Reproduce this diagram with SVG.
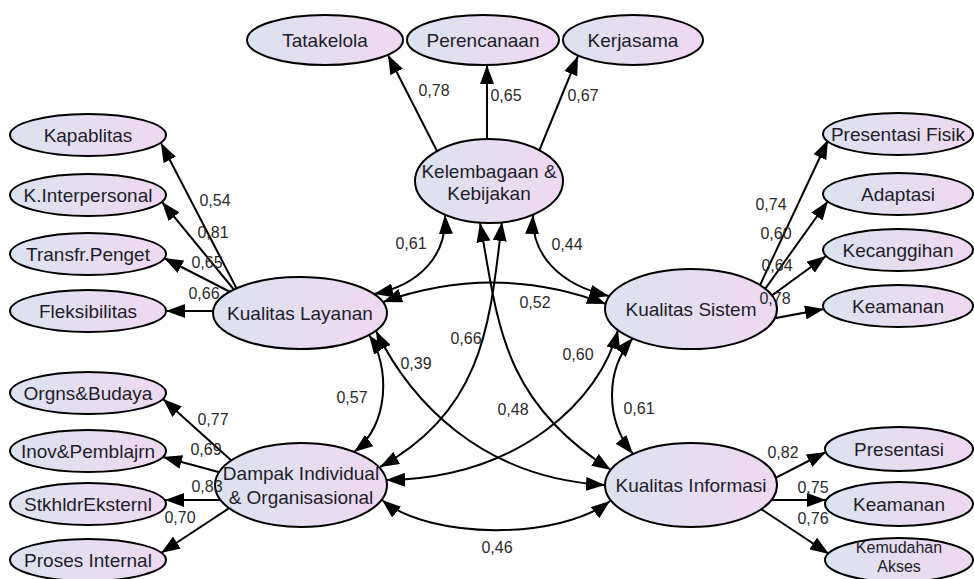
<svg xmlns="http://www.w3.org/2000/svg" width="974" height="579" viewBox="0 0 974 579">
<defs>
<linearGradient id="g" x1="0" y1="0" x2="1" y2="0">
<stop offset="0" stop-color="#dce2ef"/>
<stop offset="1" stop-color="#efd8f1"/>
</linearGradient>
<marker id="ah" viewBox="0 0 19 14" refX="19" refY="7" markerWidth="19" markerHeight="14" markerUnits="userSpaceOnUse" orient="auto-start-reverse"><path d="M0,0 L19,7 L0,14 z" fill="#000"/></marker>
</defs>
<style>
.n ellipse{fill:url(#g);stroke:#000;stroke-width:2}
.n text{font-family:"Liberation Sans",Arial,sans-serif;font-size:19px;fill:#1d1d2b;text-anchor:middle;dominant-baseline:central}
.n text.s{font-size:16px}
.c line,.c path{fill:none;stroke:#000;stroke-width:2}
.one{marker-end:url(#ah)}
.two{marker-start:url(#ah);marker-end:url(#ah)}
.lbl text{font-family:"Liberation Sans",Arial,sans-serif;font-size:16px;fill:#2a2a2a;text-anchor:middle;dominant-baseline:central}
</style>
<rect width="974" height="579" fill="#fff"/>
<g id="connectors" class="c">
<line class="one" x1="440" y1="157" x2="388" y2="55"/>
<line class="one" x1="487" y1="150" x2="487" y2="65"/>
<line class="one" x1="537" y1="156" x2="578" y2="56"/>
<line class="one" x1="241" y1="297" x2="161" y2="143"/>
<line class="one" x1="240" y1="297" x2="162" y2="202"/>
<line class="one" x1="240" y1="297" x2="164" y2="258"/>
<line class="one" x1="230" y1="311" x2="166" y2="311"/>
<line class="one" x1="753" y1="300" x2="828" y2="140"/>
<line class="one" x1="755" y1="303" x2="828" y2="201"/>
<line class="one" x1="759" y1="305" x2="826" y2="256"/>
<line class="one" x1="760" y1="321" x2="824" y2="309"/>
<line class="one" x1="243" y1="471" x2="163" y2="399"/>
<line class="one" x1="237" y1="477" x2="163" y2="457"/>
<line class="one" x1="235" y1="500" x2="165" y2="500"/>
<line class="one" x1="240" y1="501" x2="161" y2="553"/>
<line class="one" x1="756" y1="488" x2="826" y2="452"/>
<line class="one" x1="760" y1="500" x2="826" y2="500"/>
<line class="one" x1="749" y1="501" x2="829" y2="554"/>
<path class="two" d="M445,215 C447,255 420,285 374,294"/>
<path class="two" d="M533,215 C531,255 560,285 609,296"/>
<path class="two" d="M383,302 Q495,262 606,304"/>
<path class="two" d="M369,335 C390,365 390,425 354,452"/>
<path class="two" d="M376,331 C410,400 480,478 605,485"/>
<path class="two" d="M502,222 C490,320 485,410 380,467"/>
<path class="two" d="M480,223 C498,320 500,400 611,470"/>
<path class="two" d="M618,330 C600,400 520,478 386,480"/>
<path class="two" d="M633,338 C605,370 605,420 633,454"/>
<path class="two" d="M382,500 C430,540 560,540 610,501"/>
</g>
<g id="tatakelola" class="n"><ellipse cx="325" cy="40" rx="78" ry="25"/><text x="325" y="40">Tatakelola</text></g>
<g id="perencanaan" class="n"><ellipse cx="483" cy="40" rx="76" ry="25"/><text x="483" y="40">Perencanaan</text></g>
<g id="kerjasama" class="n"><ellipse cx="633" cy="40" rx="70" ry="25"/><text x="633" y="40">Kerjasama</text></g>
<g id="kelembagaan" class="n"><ellipse cx="489" cy="181" rx="74" ry="42"/><text x="489" y="171">Kelembagaan &amp;</text><text x="489" y="193">Kebijakan</text></g>
<g id="kapablitas" class="n"><ellipse cx="88" cy="135" rx="78" ry="21"/><text x="88" y="135">Kapablitas</text></g>
<g id="kinterpersonal" class="n"><ellipse cx="88" cy="195" rx="78" ry="21"/><text x="88" y="195">K.Interpersonal</text></g>
<g id="transfr" class="n"><ellipse cx="88" cy="254" rx="78" ry="21"/><text x="88" y="254">Transfr.Penget</text></g>
<g id="fleksibilitas" class="n"><ellipse cx="88" cy="311" rx="78" ry="21"/><text x="88" y="311">Fleksibilitas</text></g>
<g id="kualitas-layanan" class="n"><ellipse cx="300" cy="313" rx="87" ry="36"/><text x="300" y="313">Kualitas Layanan</text></g>
<g id="kualitas-sistem" class="n"><ellipse cx="691" cy="309" rx="86" ry="40"/><text x="691" y="309">Kualitas Sistem</text></g>
<g id="presentasi-fisik" class="n"><ellipse cx="898" cy="134" rx="75" ry="21"/><text x="898" y="134">Presentasi Fisik</text></g>
<g id="adaptasi" class="n"><ellipse cx="898" cy="194" rx="75" ry="21"/><text x="898" y="194">Adaptasi</text></g>
<g id="kecanggihan" class="n"><ellipse cx="898" cy="250" rx="75" ry="21"/><text x="898" y="250">Kecanggihan</text></g>
<g id="keamanan-s" class="n"><ellipse cx="898" cy="306" rx="75" ry="21"/><text x="898" y="306">Keamanan</text></g>
<g id="orgns" class="n"><ellipse cx="88" cy="393" rx="78" ry="21"/><text x="88" y="393">Orgns&amp;Budaya</text></g>
<g id="inov" class="n"><ellipse cx="88" cy="451" rx="78" ry="21"/><text x="88" y="451">Inov&amp;Pemblajrn</text></g>
<g id="stkhldr" class="n"><ellipse cx="88" cy="504" rx="78" ry="21"/><text x="88" y="504">StkhldrEksternl</text></g>
<g id="proses" class="n"><ellipse cx="88" cy="560" rx="78" ry="21"/><text x="88" y="560">Proses Internal</text></g>
<g id="dampak" class="n"><ellipse cx="301" cy="485" rx="86" ry="42"/><text x="301" y="473">Dampak Individual</text><text x="301" y="497">&amp; Organisasional</text></g>
<g id="kualitas-informasi" class="n"><ellipse cx="691" cy="485" rx="86" ry="42"/><text x="691" y="485">Kualitas Informasi</text></g>
<g id="presentasi" class="n"><ellipse cx="899" cy="449" rx="74" ry="22"/><text x="899" y="449">Presentasi</text></g>
<g id="keamanan-i" class="n"><ellipse cx="899" cy="504" rx="74" ry="22"/><text x="899" y="504">Keamanan</text></g>
<g id="kemudahan" class="n"><ellipse cx="899" cy="560" rx="74" ry="22"/><text class="s" x="899" y="547">Kemudahan</text><text class="s" x="899" y="566">Akses</text></g>
<g id="labels" class="lbl">
<text x="434" y="90">0,78</text><text x="506" y="95">0,65</text><text x="583" y="95">0,67</text>
<text x="215" y="200">0,54</text><text x="213" y="232">0,81</text><text x="207" y="262">0,65</text><text x="204" y="293">0,66</text>
<text x="771" y="204">0,74</text><text x="776" y="233">0,60</text><text x="777" y="265">0,64</text><text x="775" y="298">0,78</text>
<text x="213" y="419">0,77</text><text x="206" y="449">0,69</text><text x="207" y="486">0,83</text><text x="180" y="517">0,70</text>
<text x="783" y="452">0,82</text><text x="813" y="487">0,75</text><text x="813" y="518">0,76</text>
<text x="411" y="243">0,61</text><text x="567" y="244">0,44</text><text x="535" y="302">0,52</text>
<text x="466" y="338">0,66</text><text x="416" y="363">0,39</text><text x="578" y="354">0,60</text>
<text x="352" y="397">0,57</text><text x="513" y="409">0,48</text><text x="639" y="408">0,61</text>
<text x="497" y="547">0,46</text>
</g>
</svg>
